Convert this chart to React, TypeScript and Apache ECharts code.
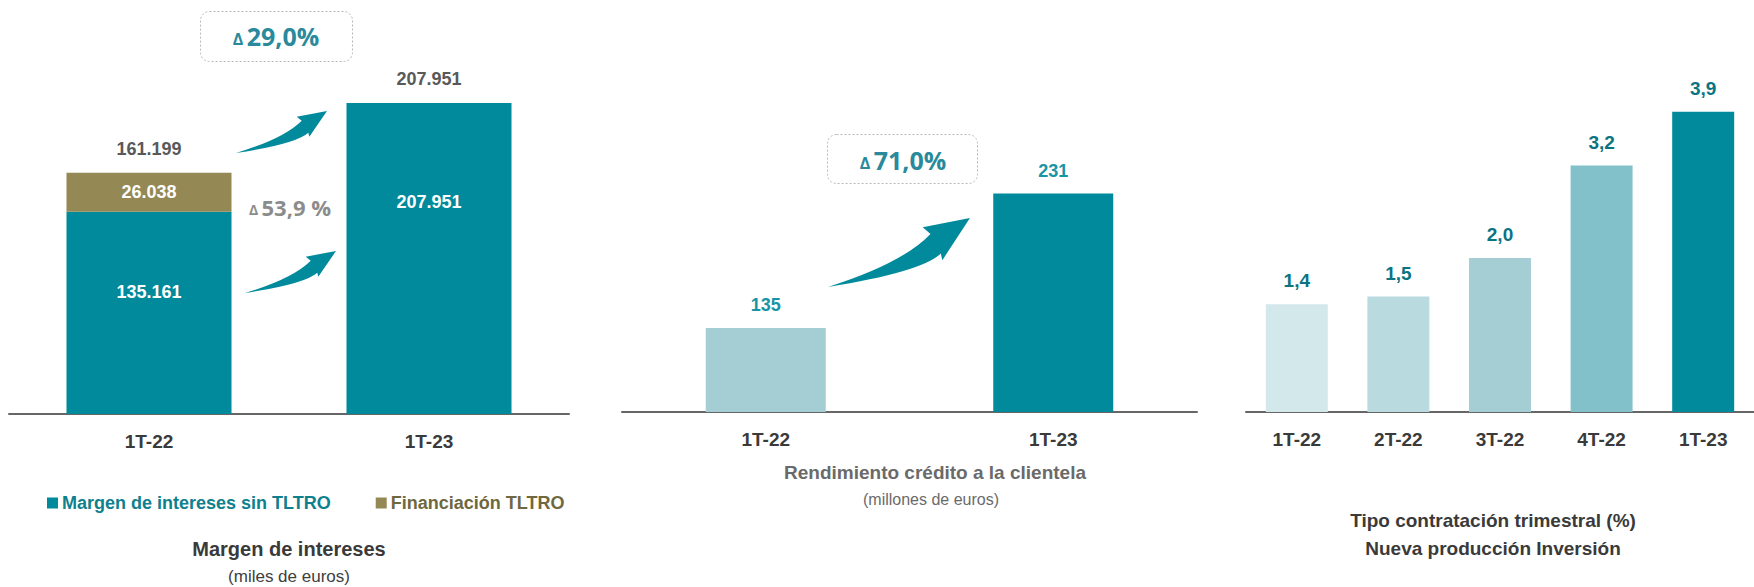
import React, { useEffect, useRef } from "react";
import * as echarts from "echarts";

// ---- data ----
const leftCategories = ["1T-22", "1T-23"];
const margenSinTltro = [135161, 207951];
const financiacionTltro: (number | null)[] = [26038, null];
const margenTotal = [161199, 207951];

const centerCategories = ["1T-22", "1T-23"];
const rendimiento = [135, 231];

const rightCategories = ["1T-22", "2T-22", "3T-22", "4T-22", "1T-23"];
const tipoContratacion = [1.4, 1.5, 2.0, 3.2, 3.9];

const legendNames = ["Margen de intereses sin TLTRO", "Financiación TLTRO"];
const deltaLeftTop = "29,0%";
const deltaLeftMid = "53,9 %";
const deltaCenter = "71,0%";

// ---- styles ----
const TEAL = "#018A9B";
const OLIVE = "#948954";
const SANS = "'Liberation Sans', Arial, sans-serif";
const DELTA_FONT = "'Open Sans', 'Noto Sans', sans-serif";
const centerColors = ["#A4CDD4", TEAL];
const rightColors = ["#D3E8EB", "#B9DBE0", "#A4CDD4", "#83C1CA", TEAL];

const fmtThousands = (v: number) => String(v).replace(/\B(?=(\d{3})+(?!\d))/g, ".");
const fmtDec = (v: number) => v.toFixed(1).replace(".", ",");

const ARROW_D =
  "M0,42 Q47.7,27.7 65.7,9.7 L60.7,5.7 L91,0 L73.3,25.7 L72.3,21.7 Q59.7,33 0,42 Z";

let registered = false;
function registerShapes() {
  if (registered) return;
  registered = true;
  echarts.graphic.registerShape("swoosh", echarts.graphic.extendPath(ARROW_D, {}) as any);
}

export default function App() {
  const ref = useRef<HTMLDivElement>(null);

  useEffect(() => {
    registerShapes();
    const chart = echarts.init(ref.current!, null, { renderer: "svg" });

    const axisLine = { show: true, lineStyle: { color: "#666666", width: 2 } };
    const catLabel = {
      color: "#3A3A3A",
      fontFamily: SANS,
      fontWeight: "bold" as const,
      fontSize: 19,
      margin: 18,
    };

    const deltaText = (x: number, y: number, val: string, color: string, big: number) => ({
      type: "text",
      x,
      y,
      style: {
        text: "{d|Δ} {n|" + val + "}",
        align: "center",
        verticalAlign: "middle",
        rich: {
          d: {
            fontSize: Math.round(big * 0.62),
            fontWeight: "bold",
            fill: color,
            fontFamily: DELTA_FONT,
            verticalAlign: "bottom",
            padding: [0, 0, 2, 0],
          },
          n: { fontSize: big, fontWeight: "bold", fill: color, fontFamily: DELTA_FONT, verticalAlign: "bottom" },
        },
      },
    });

    const title = (x: number, y: number, text: string, size: number, bold: boolean, color: string) => ({
      type: "text",
      x,
      y,
      style: {
        text,
        align: "center",
        verticalAlign: "middle",
        fontSize: size,
        fontWeight: bold ? "bold" : "normal",
        fontFamily: SANS,
        fill: color,
      },
    });

    const valueLabel = (color: string, size: number) => ({
      show: true,
      color,
      fontFamily: SANS,
      fontWeight: "bold",
      fontSize: size,
    });

    const option: any = {
      animation: false,
      backgroundColor: "#ffffff",
      grid: [
        { left: 9, width: 560, top: 55, bottom: 173 },
        { left: 622, width: 575, top: 97, bottom: 175 },
        { left: 1246, width: 520, top: 27, bottom: 175 },
      ],
      xAxis: [
        { type: "category", gridIndex: 0, data: leftCategories, axisLine, axisTick: { show: false }, axisLabel: catLabel },
        { type: "category", gridIndex: 1, data: centerCategories, axisLine, axisTick: { show: false }, axisLabel: catLabel },
        { type: "category", gridIndex: 2, data: rightCategories, axisLine, axisTick: { show: false }, axisLabel: catLabel },
      ],
      yAxis: [
        { type: "value", gridIndex: 0, min: 0, max: 240000, show: false, splitLine: { show: false } },
        { type: "value", gridIndex: 1, min: 75, max: 300, show: false, splitLine: { show: false } },
        { type: "value", gridIndex: 2, min: 0, max: 5, show: false, splitLine: { show: false } },
      ],
      legend: {
        left: 42,
        top: 489,
        itemWidth: 11,
        itemHeight: 11,
        itemGap: 45,
        icon: "rect",
        textStyle: { fontFamily: SANS, fontWeight: "bold", fontSize: 18, padding: [0, 0, 0, -1] },
        data: [
          { name: legendNames[0], textStyle: { color: "#0F808D" } },
          { name: legendNames[1], textStyle: { color: "#6E6840" } },
        ],
      },
      series: [
        {
          name: legendNames[0],
          type: "bar",
          xAxisIndex: 0,
          yAxisIndex: 0,
          stack: "m",
          barWidth: 165,
          barGap: "-100%",
          itemStyle: { color: TEAL },
          label: {
            ...valueLabel("#ffffff", 18),
            position: "inside",
            formatter: (p: any) => fmtThousands(p.value),
          },
          data: margenSinTltro.map((v, i) => ({
            value: v,
            label: { offset: [0, i === 0 ? -21 : -56] },
          })),
        },
        {
          name: legendNames[1],
          type: "bar",
          xAxisIndex: 0,
          yAxisIndex: 0,
          stack: "m",
          barWidth: 165,
          itemStyle: { color: OLIVE },
          label: {
            ...valueLabel("#ffffff", 18),
            position: "inside",
            formatter: (p: any) => fmtThousands(p.value),
          },
          data: financiacionTltro.map((v) => (v === null ? "-" : v)),
        },
        {
          name: "total",
          type: "bar",
          xAxisIndex: 0,
          yAxisIndex: 0,
          barWidth: 165,
          barGap: "-100%",
          silent: true,
          itemStyle: { color: "rgba(0,0,0,0)" },
          label: {
            ...valueLabel("#595959", 18),
            position: "top",
            distance: 15,
            formatter: (p: any) => fmtThousands(p.value),
          },
          data: margenTotal,
        },
        {
          name: "rendimiento",
          type: "bar",
          xAxisIndex: 1,
          yAxisIndex: 1,
          barWidth: 120,
          label: { ...valueLabel("#1895A4", 18), position: "top", distance: 14 },
          data: rendimiento.map((v, i) => ({ value: v, itemStyle: { color: centerColors[i] } })),
        },
        {
          name: "tipo",
          type: "bar",
          xAxisIndex: 2,
          yAxisIndex: 2,
          barWidth: 62,
          label: {
            ...valueLabel("#0B7482", 19),
            position: "top",
            distance: 14,
            formatter: (p: any) => fmtDec(p.value),
          },
          data: tipoContratacion.map((v, i) => ({ value: v, itemStyle: { color: rightColors[i] } })),
        },
      ],
      graphic: [
        // arrows
        { type: "swoosh", x: 236, y: 111, scaleX: 1, scaleY: 1, style: { fill: TEAL } },
        { type: "swoosh", x: 245, y: 251, scaleX: 1, scaleY: 1, style: { fill: TEAL } },
        { type: "swoosh", x: 828, y: 218, scaleX: 1.56, scaleY: 1.64, style: { fill: TEAL } },
        // delta boxes
        {
          type: "rect",
          shape: { x: 200.5, y: 11.5, width: 152, height: 50, r: 9 },
          style: { fill: "#ffffff", stroke: "#b8b8b8", lineWidth: 1, lineDash: [2, 2] },
        },
        {
          type: "rect",
          shape: { x: 827.5, y: 134.5, width: 150, height: 49, r: 9 },
          style: { fill: "#ffffff", stroke: "#b8b8b8", lineWidth: 1, lineDash: [2, 2] },
        },
        deltaText(276, 36, deltaLeftTop, "#2A8A9C", 25),
        deltaText(903, 160, deltaCenter, "#2A8A9C", 25),
        deltaText(290, 207, deltaLeftMid, "#8C8C8C", 22),
        // titles
        title(289, 549, "Margen de intereses", 20, true, "#3A3A3A"),
        title(289, 576, "(miles de euros)", 17, false, "#404040"),
        title(935, 472, "Rendimiento crédito a la clientela", 19, true, "#6A6A6A"),
        title(931, 499, "(millones de euros)", 16, false, "#6A6A6A"),
        title(1493, 520, "Tipo contratación trimestral (%)", 19, true, "#3A3A3A"),
        title(1493, 548, "Nueva producción Inversión", 19, true, "#3A3A3A"),
      ],
    };

    chart.setOption(option);
    return () => chart.dispose();
  }, []);

  return (
    <div
      ref={ref}
      style={{ position: "fixed", left: 0, top: 0, width: 1754, height: 587, background: "#fff" }}
    />
  );
}
